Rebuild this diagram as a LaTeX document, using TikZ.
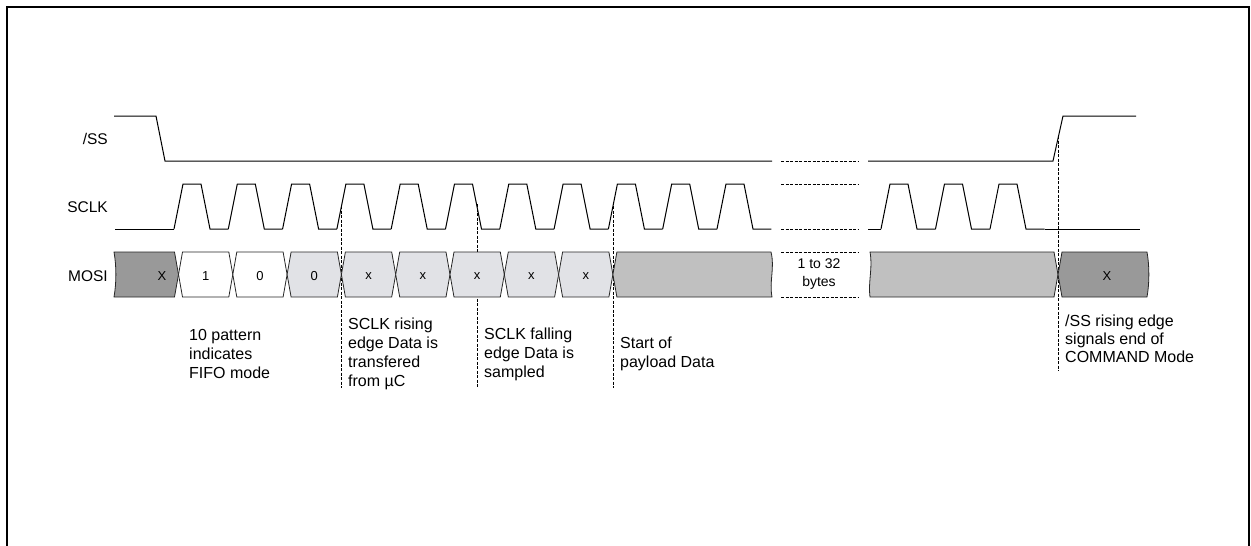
\documentclass[tikz,border=0pt]{standalone}
\usepackage{fontspec}
\setmainfont{Liberation Sans}

\definecolor{darkcell}{HTML}{999999}
\definecolor{lightcell}{HTML}{E1E2E6}
\definecolor{loadcell}{HTML}{C0C0C0}

\tikzset{
  sig/.style={line width=1pt},
  gapline/.style={line width=1pt, dash pattern=on 3pt off 1.5pt},
  marker/.style={line width=0.8pt, dash pattern=on 3pt off 1.5pt},
  cell/.style={draw=black!85, line width=0.8pt},
  siglbl/.style={anchor=east, inner sep=0pt, font=\fontsize{15.5}{18}\selectfont},
  celltxt/.style={inner sep=0pt, font=\fontsize{13}{16}\selectfont},
  note/.style={anchor=west, align=left, inner sep=0pt, font=\fontsize{16}{19}\selectfont},
}

\begin{document}
\begin{tikzpicture}[x=1pt,y=-1pt]
        \useasboundingbox (0,0) rectangle (1251,546);
        \draw[line width=2.4pt] (7,546) -- (7,7) -- (1249,7) -- (1249,546);% frame, open at the bottom

        % signal names
        \node[siglbl] (sslbl) at (108,139) {/SS};
        \node[siglbl] (sclklbl) at (108,207) {SCLK};
        \node[siglbl] (mosilbl) at (108,276) {MOSI};

        % marker lines, drawn first so the cells cover them
        \coordinate (rise) at (341.4,206);
        \coordinate (riseend) at (341.4,388);
        \coordinate (fall) at (477,204);
        \coordinate (fallend) at (477,388);
        \coordinate (start) at (612.9,206);
        \coordinate (startend) at (612.9,388);
        \coordinate (ssup) at (1058,136);
        \coordinate (ssupend) at (1058,371);
        \draw[marker] (rise) -- (riseend);
        \draw[marker] (fall) -- (fallend);
        \draw[marker] (start) -- (startend);
        \draw[marker] (ssup) -- (ssupend);

        % /SS
        \draw[sig] (114,116) -- (156,116) -- (165,161) -- (772,161);
        \draw[gapline] (781,161) -- (858,161);
        \draw[sig] (868,161) -- (1053,161) -- (1063,116) -- (1136,116);

        % SCLK, first burst
        \draw[sig] (115,229) -- (174,229);
        \foreach \k in {0,...,10}
          \draw[sig] ({174+54.3*\k},229) -- ++(9,-45) -- ++(18,0) -- ++(9,45) -- ++(18.3,0);
        \draw[gapline] (781,184) -- (858,184);
        \draw[gapline] (781,229) -- (858,229);
        % SCLK, last bytes
        \draw[sig] (868,229) -- (881,229);
        \foreach \k in {0,1,2}
          \draw[sig] ({881+54.5*\k},229) -- ++(9,-45) -- ++(18,0) -- ++(9,45) -- ++(18.5,0);
        \draw[sig] (1044.5,229) -- (1140,229);

        % MOSI
        \draw[cell,fill=darkcell] (114,252) -- (174.5,252) -- (178.5,274.5) -- (174.5,297) -- (114,297)
          .. controls (116.5,283) and (116.5,266) .. cycle;
        \node[celltxt] (bit0) at (162,276) {X};
        \foreach \k/\col/\txt in {1/white/1,2/white/0,3/lightcell/0,4/lightcell/x,
                                  5/lightcell/x,6/lightcell/x,7/lightcell/x,8/lightcell/x}{
          \pgfmathsetmacro\xa{178.5+54.3*(\k-1)}
          \pgfmathsetmacro\xb{178.5+54.3*\k}
          \draw[cell,fill=\col] (\xa+4,252) -- (\xb-4,252) -- (\xb,274.5) -- (\xb-4,297)
            -- (\xa+4,297) -- (\xa,274.5) -- cycle;
          \node[celltxt] (bit\k) at ({(\xa+\xb)/2},276) {\txt};
        }
        \draw[cell,fill=loadcell] (612.9,274.5) -- (616.9,252) -- (771,252)
          .. controls (775,268) and (769,281) .. (772,297) -- (616.9,297) -- cycle;% payload start

        \draw[gapline] (781,252) -- (858,252);
        \draw[gapline] (781,297) -- (858,297);
        \node[align=center, inner sep=0pt, font=\fontsize{14}{18}\selectfont] (bytes) at (819,274) {1 to 32\\bytes};

        \draw[cell,fill=loadcell] (870,252) -- (1054,252) -- (1058,274.5) -- (1054,297) -- (870,297)
          .. controls (868,281) and (873,268) .. cycle;% payload end
        \draw[cell,fill=darkcell] (1058,274.5) -- (1062,252) -- (1147,252)
          .. controls (1149.5,266) and (1149.5,283) .. (1147,297) -- (1062,297) -- cycle;
        \node[celltxt] (bitend) at (1107,276) {X};

        % notes
        \node[note] (fifonote) at (189,354) {10 pattern\\indicates\\FIFO mode};
        \node[note] (risenote) at (348,354) {SCLK rising\\edge Data is\\transfered\\from µC};
        \node[note] (fallnote) at (484,354) {SCLK falling\\edge Data is\\sampled};
        \node[note] (startnote) at (620,354) {Start of\\payload Data};
        \node[note, font=\fontsize{16}{18}\selectfont] (endnote) at (1065,339) {/SS rising edge\\signals end of\\COMMAND Mode};
    \end{tikzpicture}
\end{document}
